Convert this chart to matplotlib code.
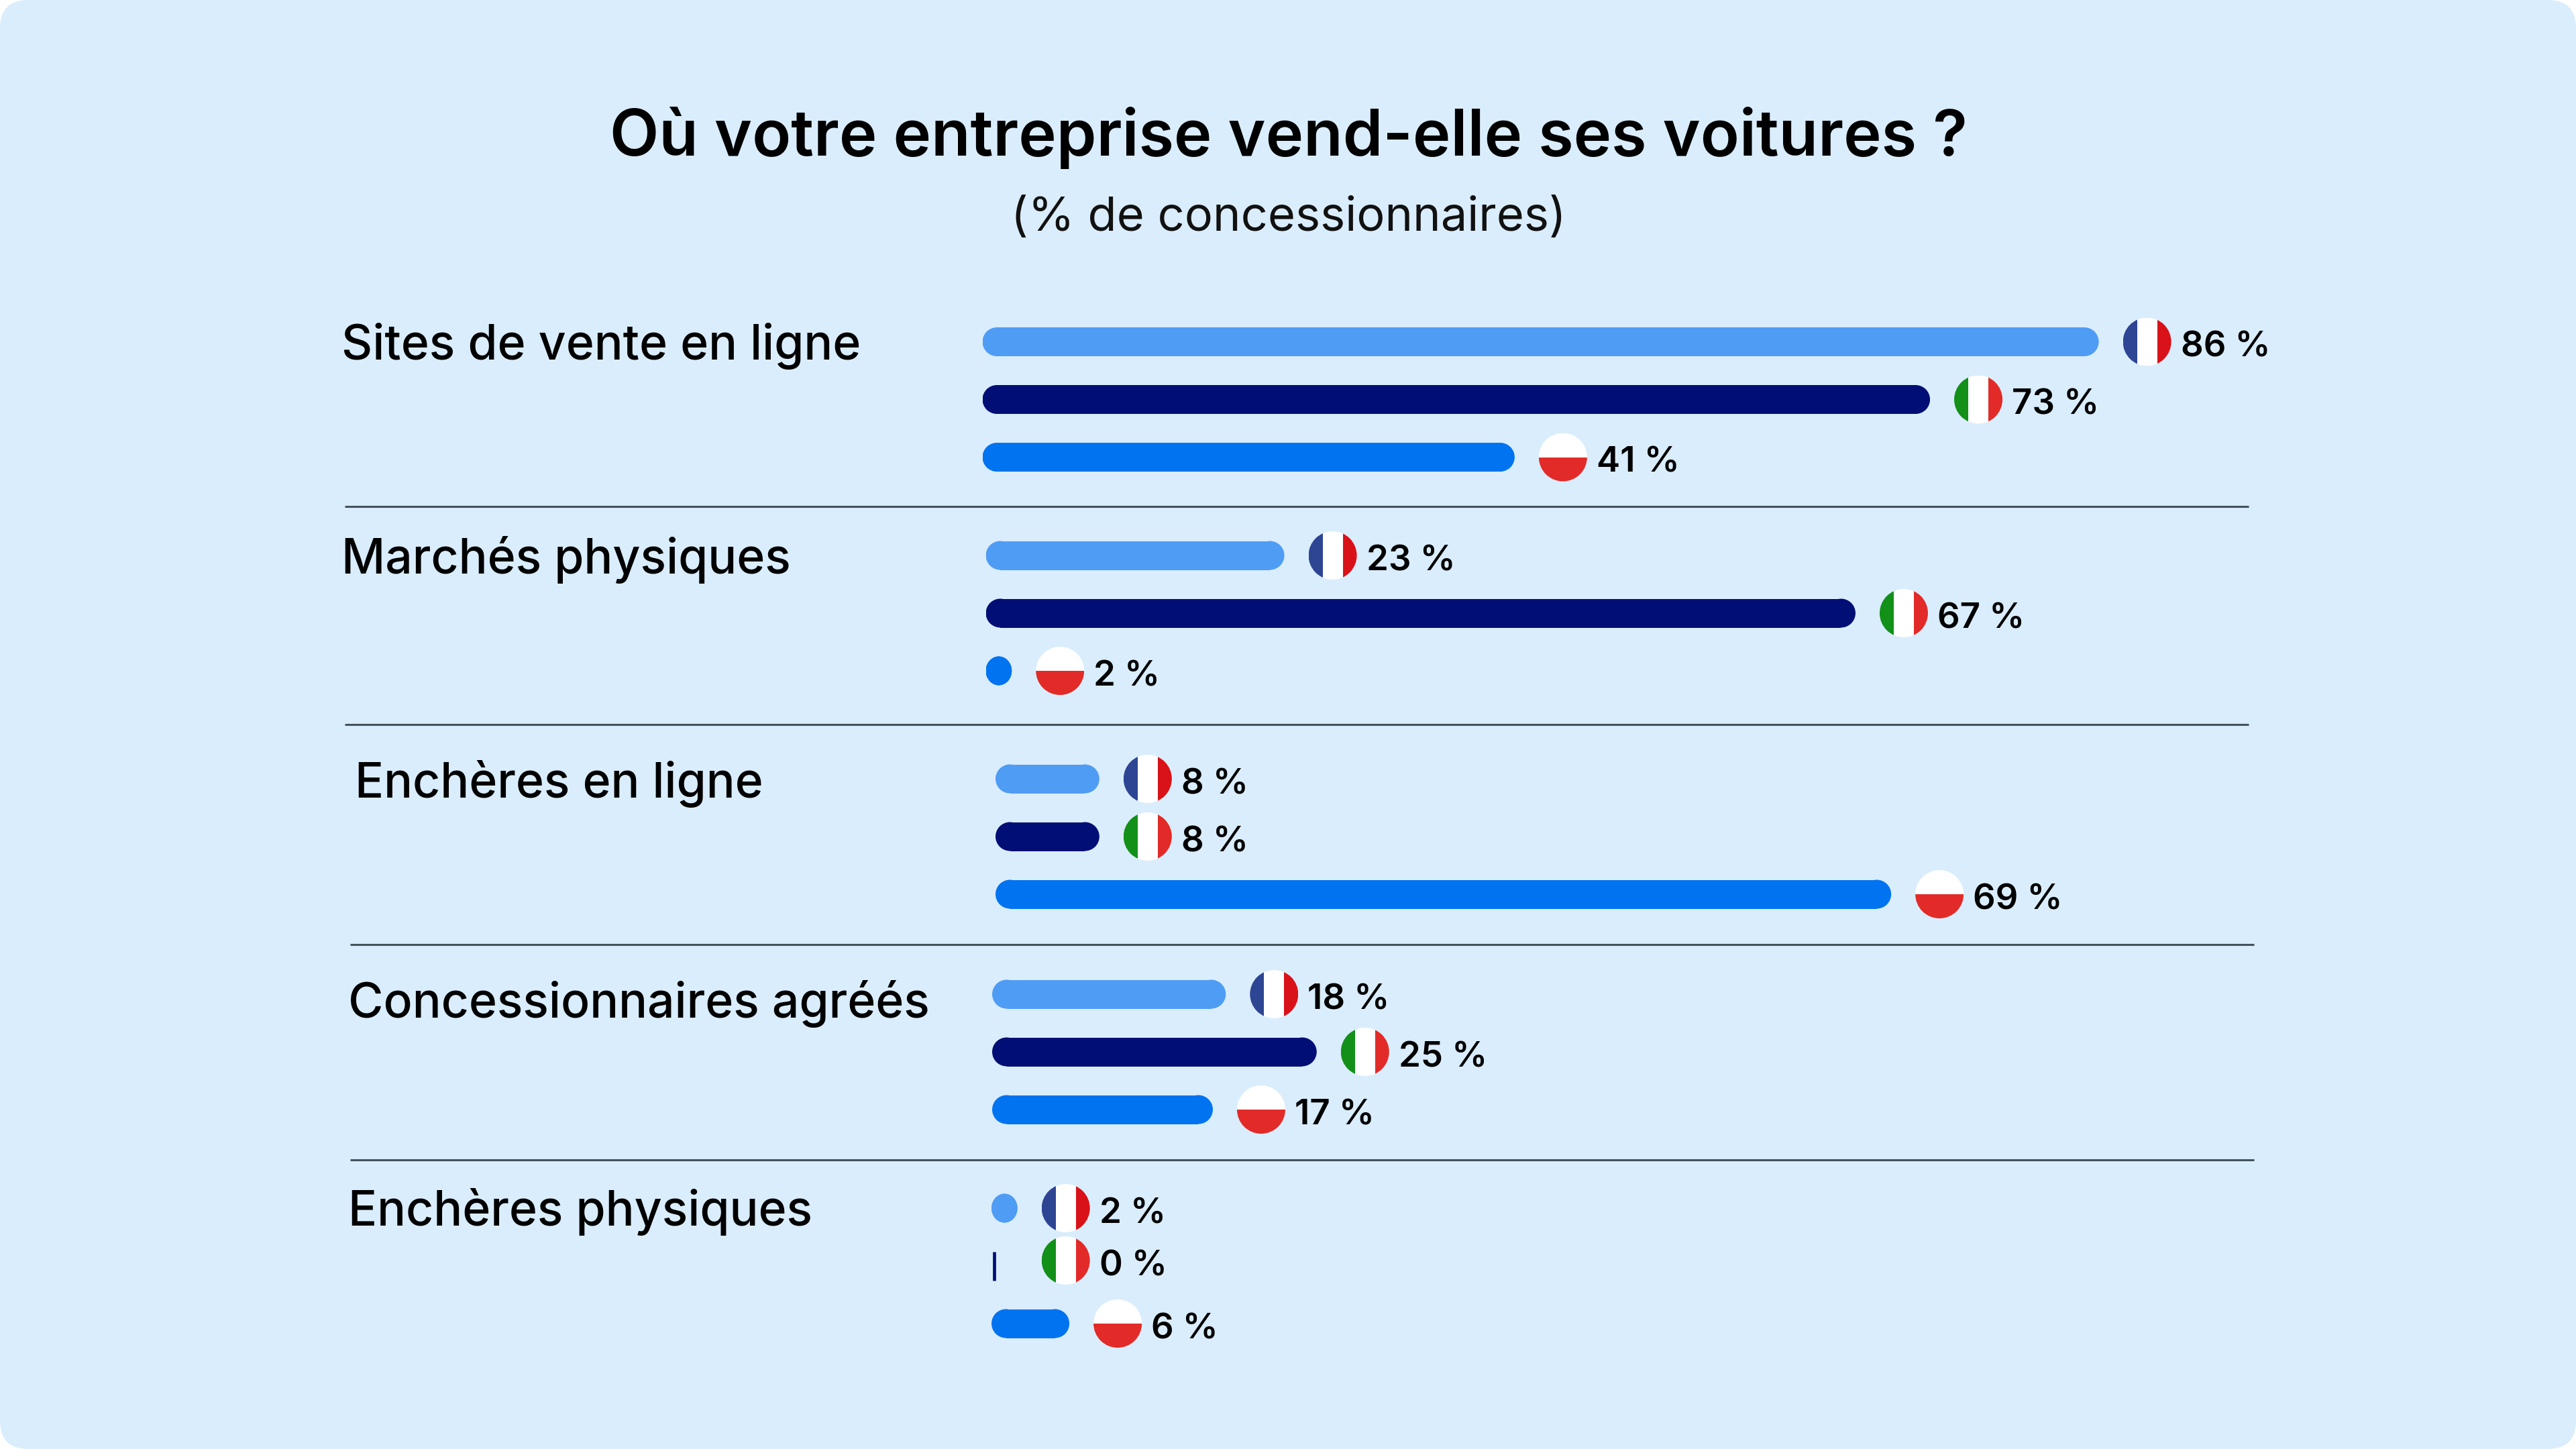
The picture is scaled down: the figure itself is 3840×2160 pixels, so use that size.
import matplotlib
matplotlib.use("Agg")
import matplotlib.pyplot as plt
from matplotlib.patches import Circle, Ellipse, FancyBboxPatch, Rectangle

plt.rcParams["font.family"] = ["Inter", "DejaVu Sans"]

# Data
title = "Où votre entreprise vend-elle ses voitures ?"
subtitle = "(% de concessionnaires)"
categories = ["Sites de vente en ligne", "Marchés physiques", "Enchères en ligne",
              "Concessionnaires agréés", "Enchères physiques"]
france = [86, 23, 8, 18, 2]
italy = [73, 67, 8, 25, 0]
poland = [41, 2, 69, 17, 6]

# Layout, in pixels of the 3840x2160 picture
W, H = 3840, 2160
PX_PER_PCT = 19.35
ROW_PX = 86
BAR_PX = 43
group_left = [1464.5, 1469.5, 1484, 1479, 1478]
group_top = [509.5, 828, 1161, 1482, 1801]  # centre of the first row
label_x = [509, 509, 529, 519, 519]
label_y = [516, 835, 1168, 1496, 1807]
separators = [(514, 3352, 755), (514, 3352, 1080), (522, 3360, 1408), (522, 3360, 1729)]

# Colours
BG = "#DAEDFC"
bar_colors = ["#4F9CF5", "#000E75", "#0073F0"]
FR = ["#2D4593", "#FFFFFF", "#D81218"]
IT = ["#129018", "#FFFFFF", "#E22B28"]
PL_WHITE, PL_RED = "#FFFFFF", "#E22B28"

fig = plt.figure(figsize=(W / 100, H / 100), dpi=100, facecolor="white")

# Full-picture axes in pixel units, for the card, the texts and the flags
canvas = fig.add_axes([0, 0, 1, 1])
canvas.set_xlim(0, W)
canvas.set_ylim(H, 0)
canvas.axis("off")
canvas.add_patch(FancyBboxPatch((0, 0), W, H, boxstyle="round,pad=0,rounding_size=42",
                                facecolor=BG, edgecolor="none"))

canvas.text(1921, 205, title, ha="center", va="center", fontsize=68.8, fontweight="semibold", color="black")
canvas.text(1921, 326, subtitle, ha="center", va="center", fontsize=50.7, color="#111111")

for x0, x1, y in separators:
    canvas.plot([x0, x1], [y, y], color="#44525C", lw=2.2, solid_capstyle="butt")


def draw_flag(cx, cy, flag):
    r = 36
    clip = Circle((cx, cy), r, transform=canvas.transData)
    if flag == "PL":
        parts = [Rectangle((cx - r, cy - r), 2 * r, r, color=PL_WHITE),
                 Rectangle((cx - r, cy), 2 * r, r, color=PL_RED)]
    else:
        cols = FR if flag == "FR" else IT
        parts = [Rectangle((cx - r, cy - r), 21, 2 * r, color=cols[0]),
                 Rectangle((cx - r + 21, cy - r), 30, 2 * r, color=cols[1]),
                 Rectangle((cx - r + 51, cy - r), 21, 2 * r, color=cols[2])]
    for p in parts:
        p.set_linewidth(0)
        canvas.add_patch(p)
        p.set_clip_path(clip)


def draw_bar(ax, row, value, color):
    half = BAR_PX / ROW_PX / 2
    if value == 0:
        ax.plot([0.23, 0.23], [row - half, row + half], color=color, lw=3.4, solid_capstyle="butt")
        return
    # barh body with an ellipse on each end (ellipses because x is percent, y is rows)
    cap = min(BAR_PX / 2 / PX_PER_PCT, value / 2)
    ax.barh(row, value - 2 * cap, left=cap, height=2 * half, color=color, linewidth=0)
    for x in [cap, value - cap]:
        ax.add_patch(Ellipse((x, row), 2 * cap, 2 * half, facecolor=color, edgecolor="none"))


flags = ["FR", "IT", "PL"]
for g, cat in enumerate(categories):
    canvas.text(label_x[g], label_y[g], cat, va="center", ha="left", fontsize=51.5, fontweight="medium", color="black")

    # one axes per group, with percent on x and row on y
    height = 3 * ROW_PX
    width = 2100
    top = group_top[g] - ROW_PX / 2
    ax = fig.add_axes([group_left[g] / W, 1 - (top + height) / H, width / W, height / H])
    ax.set_xlim(0, width / PX_PER_PCT)
    ax.set_ylim(2.5, -0.5)
    ax.axis("off")
    ax.patch.set_alpha(0)

    for row, values in enumerate([france, italy, poland]):
        v = values[g]
        draw_bar(ax, row, v, bar_colors[row])

        # the 0 % flag and label sit where those of a 2 % bar would, a bit higher
        anchor = v if v > 0 else 2
        nudge = 0 if v > 0 else -8
        px, py = canvas.transData.inverted().transform(ax.transData.transform((anchor, row)))
        draw_flag(px + 72, py + nudge, flags[row])
        canvas.text(px + 72 + 50, py + nudge + 9, f"{v} %", va="center", ha="left",
                    fontsize=38, fontweight="semibold", color="black")

fig.savefig("out.png", dpi=100)
